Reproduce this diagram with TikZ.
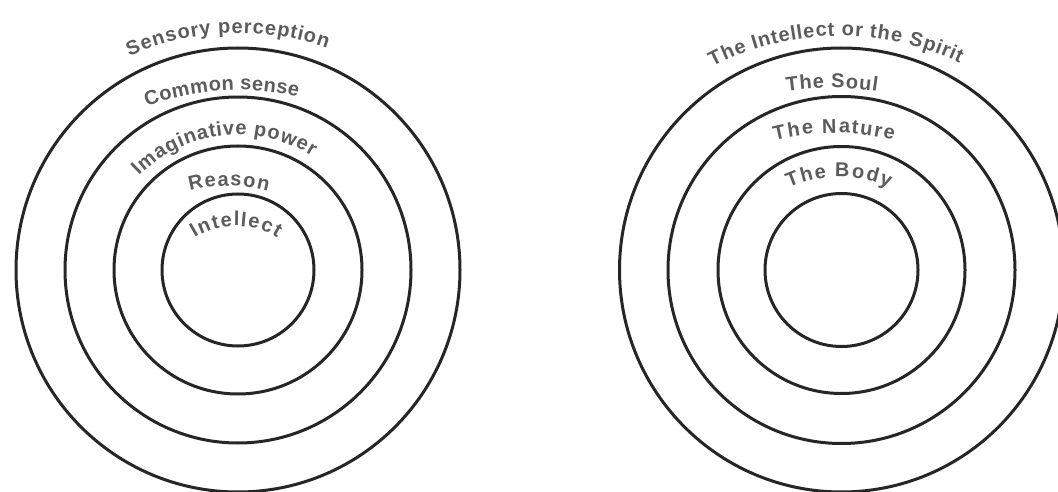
\documentclass[tikz,border=0pt]{standalone}
\usepackage{fontspec}
\setmainfont{Liberation Sans}
\usetikzlibrary{calc,decorations.text}
\definecolor{ringcol}{HTML}{262626}
\definecolor{textcol}{HTML}{5C5C5C}
\tikzset{
  ring/.style={draw=ringcol, line width=3pt},
  arctext/.style={decorate, decoration={text effects along path, text={#1},
    text effects/.cd, text along path, fit text to path,
    characters={text=textcol, anchor=base}}}
}
% #1 centre, #2 radius, #3 start angle, #4 end angle, #5 text
\newcommand\arclabel[5]{%
  \path[arctext={#5}] ($(#1)+(#3:#2)$) arc[start angle=#3, end angle=#4, radius=#2];}
\begin{document}
\bfseries\fontsize{20}{20}\selectfont
\begin{tikzpicture}[x=1pt, y=1pt]
\useasboundingbox[fill=white] (0,0) rectangle (1058,491);
\clip (0,0) rectangle (1058,491);
\coordinate (cL) at (238,221);
\coordinate (cR) at (841.5,221);
% left rings
\foreach \r in {222,173,124,76} \draw[ring] (cL) circle[radius=\r pt];
% right rings
\foreach \r in {222,173.5,123.5,76.5} \draw[ring] (cR) circle[radius=\r pt];
% centres of the text arcs
\coordinate (tSP) at (238,191);
\coordinate (tCS) at (238,141);
\coordinate (tIP) at (238,216);
\coordinate (tRE) at (229,154);
\coordinate (tIN) at (236,187);
\coordinate (tIS) at (840,176);
\coordinate (tSO) at (832,102);
\coordinate (tNA) at (834,107);
\coordinate (tBO) at (839,191);
% left labels
\arclabel{tSP}{267pt}{114}{70.5}{Sensory perception}
\arclabel{tCS}{260pt}{110.5}{76.7}{Common sense}
\arclabel{tIP}{140pt}{135}{58}{Imaginative power}
\arclabel{tRE}{151pt}{105}{75}{Reason}
\arclabel{tIN}{78pt}{122}{58}{Intellect}
% right labels
\arclabel{tIS}{279pt}{117.2}{64.6}{The Intellect or the Spirit}
\arclabel{tSO}{301pt}{98.6}{81.4}{The Soul}
\arclabel{tNA}{251pt}{103.7}{76.3}{The Nature}
\arclabel{tBO}{123pt}{114}{66}{The Body}
\end{tikzpicture}
\end{document}
